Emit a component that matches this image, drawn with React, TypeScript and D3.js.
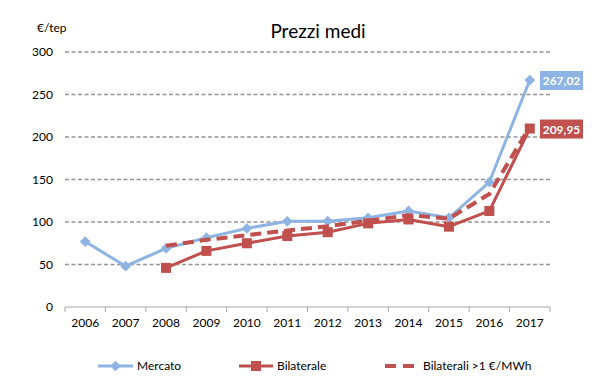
import React from "react";
import * as d3 from "d3";

const years = ["2006","2007","2008","2009","2010","2011","2012","2013","2014","2015","2016","2017"];
const mercato: (number|null)[] = [77, 48, 69, 81.5, 92.5, 100.8, 101, 105, 113, 105, 147, 267.02];
const bilaterale: (number|null)[] = [null, null, 46, 66, 75, 83.5, 88, 98.4, 103, 94.5, 113, 209.95];
const bilaterali1: (number|null)[] = [null, null, 72, 79, 84.5, 90, 95, 101.5, 108, 104, 133, 212];
const yTicks = [0, 50, 100, 150, 200, 250, 300];

const W = 593, H = 381;
const left = 65, right = 550, top = 52, bottom = 307;
const font = "Lato, 'Open Sans', sans-serif";

export default function App() {
  const x = d3.scaleBand().domain(years).range([left, right]);
  const y = d3.scaleLinear().domain([0, 300]).range([bottom, top]);
  const cx = (yr: string) => (x(yr) as number) + x.bandwidth() / 2;

  const mk = (vals: (number|null)[]) =>
    d3.line<number|null>()
      .defined(d => d !== null)
      .x((_, i) => cx(years[i]))
      .y(d => y(d as number))(vals) as string;

  const blue = "#8DB4E2";
  const red = "#C0504D";

  const last = years.length - 1;

  return (
    <svg width={W} height={H} style={{ position: "absolute", left: 0, top: 0, fontFamily: font }}>
      <rect width={W} height={H} fill="#fff" />
      <text x={318} y={38} textAnchor="middle" fontSize={19} fill="#000">Prezzi medi</text>
      <text x={37} y={32} fontSize={12} fill="#000">€/tep</text>
      {yTicks.map(t => (
        <g key={t}>
          {t > 0 && (
            <line x1={left} x2={right} y1={y(t)} y2={y(t)} stroke="#959595" strokeWidth={1.6} strokeDasharray="4,2.5" />
          )}
          <text x={53} y={y(t) + 4} textAnchor="end" fontSize={12} fill="#000">{t}</text>
        </g>
      ))}
      <line x1={left} x2={right} y1={bottom} y2={bottom} stroke="#A6A6A6" strokeWidth={1} />
      {years.map((yr, i) => (
        <line key={"t" + i} x1={x(yr) as number} x2={x(yr) as number} y1={bottom} y2={bottom + 5} stroke="#A6A6A6" />
      ))}
      <line x1={right} x2={right} y1={bottom} y2={bottom + 5} stroke="#A6A6A6" />
      {years.map(yr => (
        <text key={"l" + yr} x={cx(yr)} y={327} textAnchor="middle" fontSize={12} fill="#000">{yr}</text>
      ))}

      <path d={mk(mercato)} fill="none" stroke={blue} strokeWidth={3} strokeLinejoin="round" />
      {mercato.map((v, i) => v === null ? null : (
        <rect key={"m" + i} x={cx(years[i]) - 3.8} y={y(v) - 3.8} width={7.6} height={7.6} fill={blue}
          transform={`rotate(45 ${cx(years[i])} ${y(v)})`} />
      ))}
      <path d={mk(bilaterale)} fill="none" stroke={red} strokeWidth={3} strokeLinejoin="round" />
      {bilaterale.map((v, i) => v === null ? null : (
        <rect key={"b" + i} x={cx(years[i]) - 5} y={y(v) - 5} width={10} height={10} fill={red} />
      ))}
      <path d={mk(bilaterali1)} fill="none" stroke={red} strokeWidth={4} strokeDasharray="11,6" />

      <rect x={540} y={y(mercato[last] as number) - 9} width={43} height={19} fill={blue} />
      <text x={561.5} y={y(mercato[last] as number) + 5} textAnchor="middle" fontSize={12} fontWeight="bold" fill="#fff">267,02</text>
      <rect x={540} y={y(bilaterale[last] as number) - 9} width={43} height={19} fill={red} />
      <text x={561.5} y={y(bilaterale[last] as number) + 5} textAnchor="middle" fontSize={12} fontWeight="bold" fill="#fff">209,95</text>

      <g fontSize={12} fill="#000">
        <line x1={98} x2={133} y1={366} y2={366} stroke={blue} strokeWidth={3} />
        <rect x={115.5 - 3.8} y={366 - 3.8} width={7.6} height={7.6} fill={blue} transform="rotate(45 115.5 366)" />
        <text x={137} y={370}>Mercato</text>
        <line x1={239} x2={273} y1={366} y2={366} stroke={red} strokeWidth={3} />
        <rect x={251} y={361} width={10} height={10} fill={red} />
        <text x={277} y={370}>Bilaterale</text>
        <line x1={385} x2={414} y1={366} y2={366} stroke={red} strokeWidth={4} strokeDasharray="11,7" />
        <text x={423} y={370}>Bilaterali &gt;1 €/MWh</text>
      </g>
    </svg>
  );
}
